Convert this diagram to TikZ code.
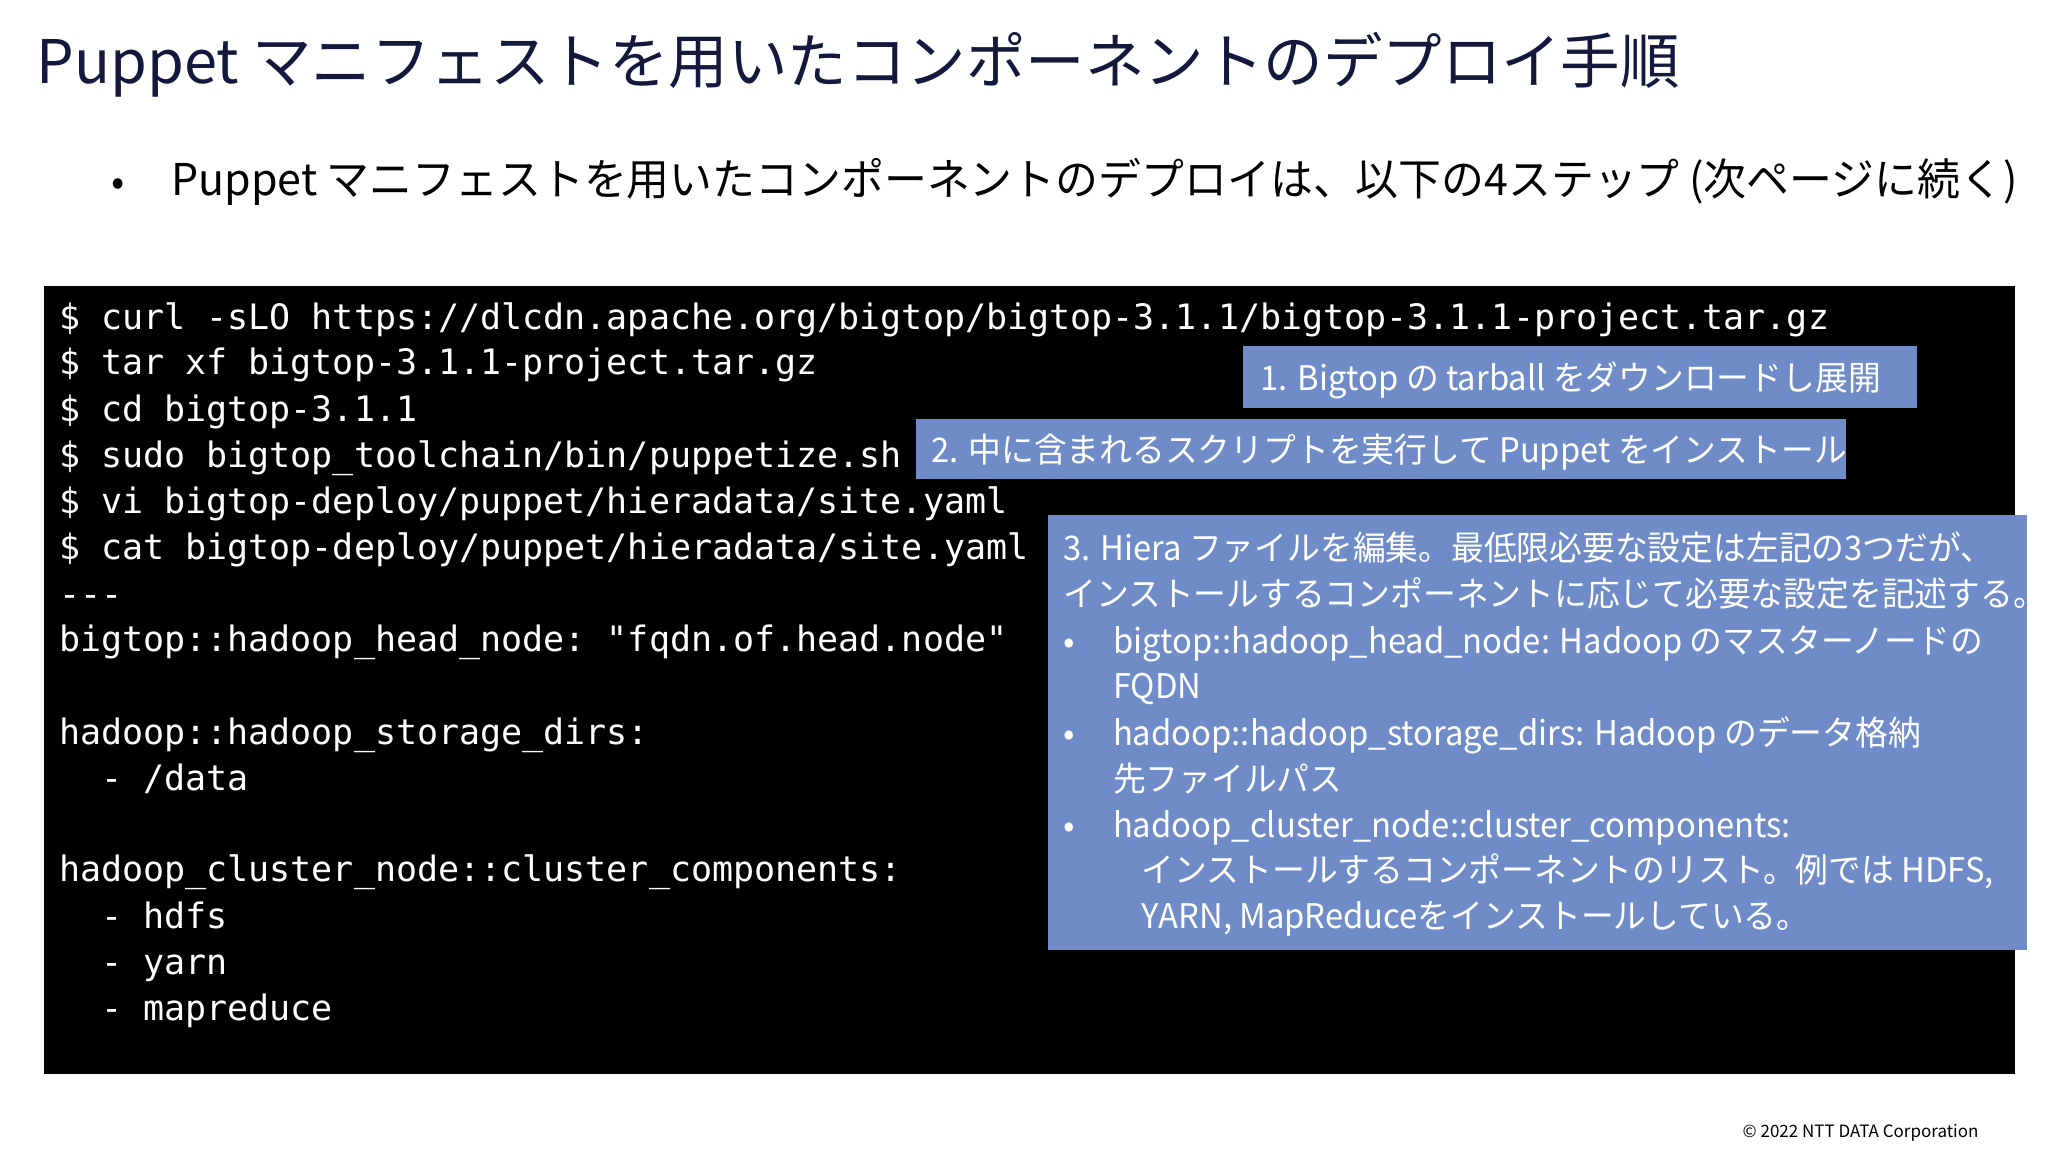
\documentclass[tikz,border=0pt]{standalone}
\usepackage{fontspec}
\setmainfont{Noto Sans CJK JP}
\setmonofont{DejaVu Sans Mono}
\definecolor{bluebox}{RGB}{111,140,200}
\definecolor{titlec}{RGB}{20,24,60}
\newcommand{\sq}[1]{\scalebox{0.965}[1]{#1}}
\begin{document}
\begin{tikzpicture}[x=1pt,y=-1pt,
  code/.style={anchor=base west,inner sep=0,text=white,font=\ttfamily\fontsize{26.8}{30}\selectfont},
  btxt/.style={anchor=base west,inner sep=0,text=white,font=\fontsize{26}{30}\selectfont},
  bbox/.style={fill=bluebox,draw=none}]
\useasboundingbox (0,0) rectangle (1568,882);
\fill[white] (0,0) rectangle (1568,882);
\node[anchor=base west,inner sep=0,text=titlec,font=\fontsize{46}{50}\selectfont] (title) at (28,64) {\scalebox{0.99}[1]{Puppet マニフェストを用いたコンポーネントのデプロイ手順}};
\node[anchor=base west,inner sep=0,font=\fontsize{30}{34}\selectfont] (bul) at (85,150) {•};
\node[anchor=base west,inner sep=0,font=\fontsize{33.5}{36}\selectfont] (sub) at (131,150) {\scalebox{0.98}[1]{Puppet マニフェストを用いたコンポーネントのデプロイは、以下の4ステップ (次ページに続く)}};
\fill[black] (34,219) rectangle (1543,822);
\foreach \t/\y [count=\i] in {
 {\$ curl -sLO https://dlcdn.apache.org/bigtop/bigtop-3.1.1/bigtop-3.1.1-project.tar.gz}/243,
 {\$ tar xf bigtop-3.1.1-project.tar.gz}/278,
 {\$ cd bigtop-3.1.1}/314,
 {\$ sudo bigtop\_toolchain/bin/puppetize.sh}/349,
 {\$ vi bigtop-deploy/puppet/hieradata/site.yaml}/384,
 {\$ cat bigtop-deploy/puppet/hieradata/site.yaml}/419,
 {-{}-{}-}/455,
 {bigtop::hadoop\_head\_node: "fqdn.of.head.node"}/490,
 {hadoop::hadoop\_storage\_dirs:}/561,
 {\ \ - /data}/596,
 {hadoop\_cluster\_node::cluster\_components:}/666,
 {\ \ - hdfs}/702,
 {\ \ - yarn}/737,
 {\ \ - mapreduce}/772}
 {\node[code] (c\i) at (45,\y+9) {\t};}
\fill[bbox] (952,265) rectangle (1468,312);
\node[btxt] (s1) at (965,299) {\sq{1. Bigtop の tarball をダウンロードし展開}};
\fill[bbox] (701,321) rectangle (1413,367);
\node[btxt] (s2) at (713,354) {\sq{2. 中に含まれるスクリプトを実行して Puppet をインストール}};
\fill[bbox] (802,394) rectangle (1552,727);
\node[btxt] (t1) at (814,429) {\sq{3. Hiera ファイルを編集。最低限必要な設定は左記の3つだが、}};
\node[btxt] (t2) at (814,464) {\sq{インストールするコンポーネントに応じて必要な設定を記述する。}};
\node[btxt] (b1) at (814,500) {•};
\node[btxt] (t3) at (852,500) {\sq{bigtop::hadoop\_head\_node: Hadoop のマスターノードの}};
\node[btxt] (t4) at (852,535) {\sq{FQDN}};
\node[btxt] (b2) at (814,571) {•};
\node[btxt] (t5) at (852,571) {\sq{hadoop::hadoop\_storage\_dirs: Hadoop のデータ格納}};
\node[btxt] (t6) at (852,606) {\sq{先ファイルパス}};
\node[btxt] (b3) at (814,641) {•};
\node[btxt] (t7) at (852,641) {\sq{hadoop\_cluster\_node::cluster\_components:}};
\node[btxt] (t8) at (874,676) {\sq{インストールするコンポーネントのリスト。例では HDFS,}};
\node[btxt] (t9) at (874,711) {\sq{YARN, MapReduceをインストールしている。}};
\node[anchor=base east,inner sep=0,font=\fontsize{13}{15}\selectfont] (copy) at (1515,871) {© 2022 NTT DATA Corporation};
\end{tikzpicture}
\end{document}
